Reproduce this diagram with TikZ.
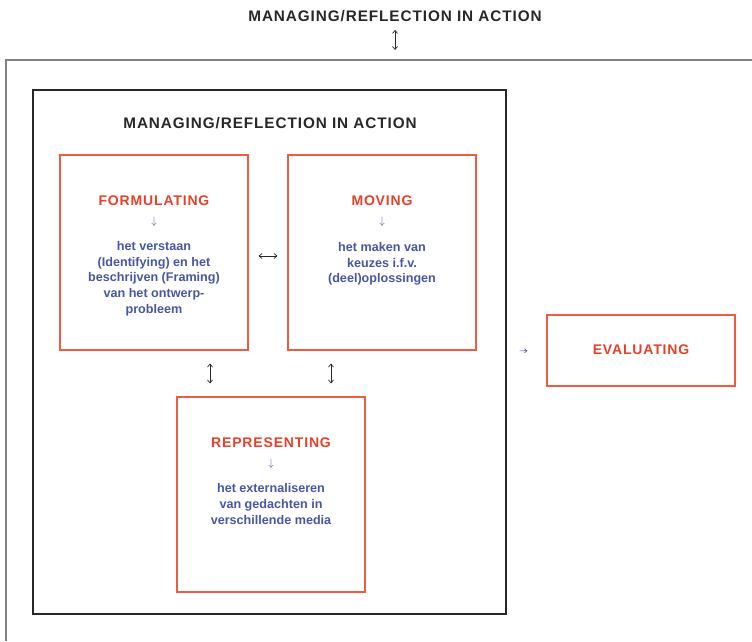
\documentclass[tikz,border=0pt]{standalone}
\usepackage{fontspec}
\setmainfont{Liberation Sans}
\newfontfamily\capsfont[LetterSpace=6]{Liberation Sans}
\usetikzlibrary{arrows.meta}

\definecolor{actred}{RGB}{232,64,40}
\definecolor{boxred}{RGB}{238,92,66}
\definecolor{actblue}{RGB}{72,86,166}
\definecolor{framegrey}{RGB}{130,130,130}
\definecolor{darktext}{RGB}{40,40,40}

\begin{document}
\begin{tikzpicture}[x=1pt,y=-1pt,
    actbox/.style={draw=boxred,line width=1.1pt,minimum width=188pt,inner sep=0pt},
    title/.style={font=\capsfont\bfseries\fontsize{15.3}{17}\selectfont,text=darktext,inner sep=0pt},
    head/.style={font=\capsfont\bfseries\fontsize{14}{16}\selectfont,text=actred,inner sep=0pt},
    desc/.style={font=\bfseries\fontsize{12.6}{15.7}\selectfont,text=actblue,align=center,inner sep=0pt},
    down/.style={text=actblue,font=\fontsize{11}{11}\selectfont,inner sep=0pt},
    both/.style={{Straight Barb[length=3pt,width=5pt]}-{Straight Barb[length=3pt,width=5pt]},line width=0.7pt,darktext}]
    \useasboundingbox (0,0) rectangle (752,641);

    % outer frame, running off the page
    \draw [framegrey,line width=1.5pt] (752,60) -- (6,60) -- (6,641);
    \coordinate (frametop) at (395,60);
    \node [title] (maintitle) at (395,16) {MANAGING/REFLECTION IN ACTION};
    \draw [both,shorten <=8pt,shorten >=10pt] (maintitle.south) -- (frametop);

    % inner frame
    \node [draw=darktext,line width=1.4pt,minimum width=473pt,minimum height=524pt,inner sep=0pt] (inner) at (269.5,352) {};
    \node [title] (innertitle) at (270,123) {MANAGING/REFLECTION IN ACTION};

    % the three activities
    \node [actbox,minimum height=195pt] (form) at (154,252.5) {};
    \node [head] (formhead) at (154,201) {FORMULATING};
    \node [down] (formarrow) at (154,222) {$\downarrow$};
    \node [desc] (formdesc) at (154,278.5) {het verstaan\\(Identifying) en het\\beschrijven (Framing)\\van het ontwerp-\\probleem};

    \node [actbox,minimum height=195pt] (move) at (382,252.5) {};
    \node [head] (movehead) at (382,201) {MOVING};
    \node [down] (movearrow) at (382,222) {$\downarrow$};
    \node [desc] (movedesc) at (382,264) {het maken van\\keuzes i.f.v.\\(deel)oplossingen};

    \node [actbox,minimum height=195pt] (repr) at (271,494.5) {};
    \node [head] (reprhead) at (271,443) {REPRESENTING};
    \node [down] (reprarrow) at (271,464) {$\downarrow$};
    \node [desc] (reprdesc) at (271,504) {het externaliseren\\van gedachten in\\verschillende media};

    \node [actbox,minimum height=71pt] (eval) at (641,350.5) {};
    \node [head] (evalhead) at (641,350) {EVALUATING};

    % links between them
    \draw [both,shorten <=10pt,shorten >=10pt] ([yshift=-3.5pt]form.east) -- ([yshift=-3.5pt]move.west);
    \draw [both,shorten <=13pt,shorten >=13pt] ([xshift=56pt]form.south) -- ([xshift=-61pt]repr.north);
    \draw [both,shorten <=13pt,shorten >=13pt] ([xshift=-51pt]move.south) -- ([xshift=60pt]repr.north);
    \draw [-{Straight Barb[length=2.5pt,width=4pt]},actblue,line width=0.6pt,shorten <=13pt,shorten >=19pt] ([yshift=-0.5pt]inner.east |- eval.west) -- (eval.west);
\end{tikzpicture}
\end{document}
